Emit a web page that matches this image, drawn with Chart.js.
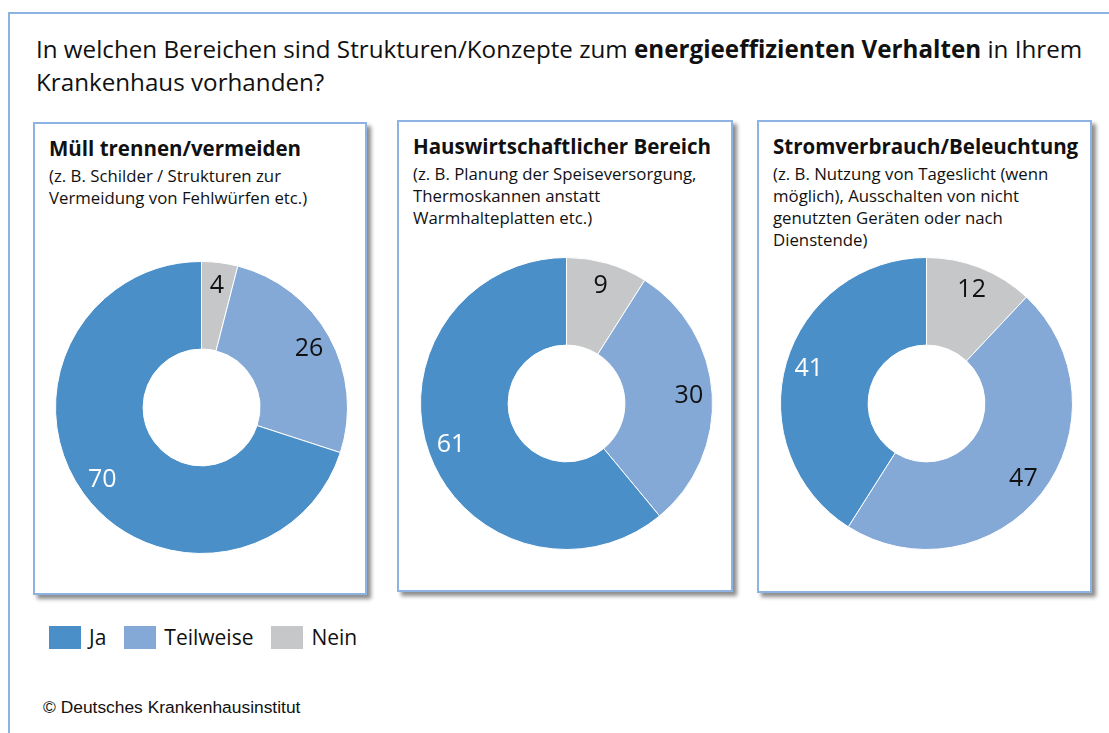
<!DOCTYPE html>
<html lang="de">
<head>
<meta charset="utf-8">
<script src="https://cdn.jsdelivr.net/npm/chart.js@4/dist/chart.umd.min.js"></script>
<style>
  html, body { margin:0; padding:0; background:#fff; }
  body { width:1109px; height:733px; position:relative; overflow:hidden; font-family:"Open Sans", sans-serif; color:#111; }
  .frame { position:absolute; left:8px; top:12px; width:1200px; height:800px; border-top:2px solid #8db3e2; border-left:2px solid #8db3e2; }
  .title { position:absolute; left:36px; top:32px; font-size:24.2px; line-height:33px; white-space:nowrap; }
  .title b { font-weight:700; }
  .box { position:absolute; border:2px solid #8db3e2; background:#fff; box-sizing:border-box; box-shadow:4px 4px 4px rgba(0,0,0,0.45); }
  .bt { position:absolute; font-weight:700; font-size:20.5px; line-height:22px; white-space:nowrap; }
  .bs { position:absolute; font-size:16.8px; line-height:22px; white-space:nowrap; }
  canvas.d { position:absolute; }
  .legend { position:absolute; left:49px; top:625px; display:flex; align-items:center; font-size:21px; }
  .legend span.sw { display:inline-block; width:32px; height:23px; margin-right:8px; }
  .legend span.tx { margin-right:18px; line-height:24px; }
  .copy { position:absolute; left:43px; top:697px; font-family:"Liberation Sans", Arial, sans-serif; font-size:17.4px; line-height:20px; white-space:nowrap; }
</style>
</head>
<body>
<div class="frame"></div>
<div class="title">In welchen Bereichen sind Strukturen/Konzepte zum <b>energieeffizienten Verhalten</b> in Ihrem<br>Krankenhaus vorhanden?</div>
<div id="panels"></div>
<div class="legend" id="legend"></div>
<div class="copy">© Deutsches Krankenhausinstitut</div>
<script>
// ---- data ----
const categories = ['Nein', 'Teilweise', 'Ja'];          // clockwise from 12 o'clock
const legendOrder = ['Ja', 'Teilweise', 'Nein'];
const muellValues = [4, 26, 70];
const hauswirtschaftValues = [9, 30, 61];
const stromValues = [12, 47, 41];
const panelTitles = ['Müll trennen/vermeiden', 'Hauswirtschaftlicher Bereich', 'Stromverbrauch/Beleuchtung'];
const panelNotes = [
  ['(z. B. Schilder / Strukturen zur', 'Vermeidung von Fehlwürfen etc.)'],
  ['(z. B. Planung der Speiseversorgung,', 'Thermoskannen anstatt', 'Warmhalteplatten etc.)'],
  ['(z. B. Nutzung von Tageslicht (wenn', 'möglich), Ausschalten von nicht', 'genutzten Geräten oder nach', 'Dienstende)']
];

// ---- styling ----
const colorMap = { 'Ja': '#4a8fc8', 'Teilweise': '#84a9d6', 'Nein': '#c6c7c9' };
const labelColorMap = { 'Ja': '#ffffff', 'Teilweise': '#111111', 'Nein': '#111111' };
const panelSeries = [muellValues, hauswirtschaftValues, stromValues];
const boxes = [
  { left: 33, top: 122, width: 334, height: 473, cx: 201, cy: 407 },
  { left: 397, top: 120, width: 336, height: 472, cx: 566, cy: 403 },
  { left: 757, top: 120, width: 335, height: 473, cx: 926.5, cy: 403 }
];
const CANVAS = 293;

const valueLabels = {
  id: 'valueLabels',
  afterDatasetsDraw(chart) {
    const ctx = chart.ctx;
    const meta = chart.getDatasetMeta(0);
    ctx.save();
    ctx.font = '25px "Open Sans", sans-serif';
    ctx.textAlign = 'center';
    ctx.textBaseline = 'middle';
    meta.data.forEach((arc, i) => {
      const p = arc.getProps(['x', 'y', 'startAngle', 'endAngle', 'outerRadius'], true);
      const mid = (p.startAngle + p.endAngle) / 2;
      const r = p.outerRadius * 0.84;
      ctx.fillStyle = labelColorMap[chart.data.labels[i]];
      ctx.fillText(String(chart.data.datasets[0].data[i]), p.x + Math.cos(mid) * r, p.y + Math.sin(mid) * r);
    });
    ctx.restore();
  }
};

const panels = document.getElementById('panels');
boxes.forEach((b, k) => {
  const box = document.createElement('div');
  box.className = 'box';
  Object.assign(box.style, { left: b.left + 'px', top: b.top + 'px', width: b.width + 'px', height: b.height + 'px' });
  panels.appendChild(box);

  const t = document.createElement('div');
  t.className = 'bt';
  t.textContent = panelTitles[k];
  Object.assign(t.style, { left: (b.left + 16) + 'px', top: (b.top + 15) + 'px' });
  panels.appendChild(t);

  const s = document.createElement('div');
  s.className = 'bs';
  s.innerHTML = panelNotes[k].join('<br>');
  Object.assign(s.style, { left: (b.left + 16) + 'px', top: (b.top + 43) + 'px' });
  panels.appendChild(s);

  const c = document.createElement('canvas');
  c.className = 'd';
  c.width = CANVAS; c.height = CANVAS;
  Object.assign(c.style, { left: (b.cx - CANVAS / 2) + 'px', top: (b.cy - CANVAS / 2) + 'px', width: CANVAS + 'px', height: CANVAS + 'px' });
  panels.appendChild(c);

  new Chart(c, {
    type: 'doughnut',
    data: {
      labels: categories,
      datasets: [{
        data: panelSeries[k],
        backgroundColor: categories.map(n => colorMap[n]),
        borderColor: '#ffffff',
        borderWidth: 1
      }]
    },
    options: {
      responsive: false,
      animation: false,
      cutout: '40%',
      layout: { padding: 0 },
      plugins: { legend: { display: false }, tooltip: { enabled: false } }
    },
    plugins: [valueLabels]
  });
});

const legend = document.getElementById('legend');
legendOrder.forEach(n => {
  const sw = document.createElement('span');
  sw.className = 'sw';
  sw.style.background = colorMap[n];
  const tx = document.createElement('span');
  tx.className = 'tx';
  tx.textContent = n;
  legend.appendChild(sw);
  legend.appendChild(tx);
});
</script>
</body>
</html>
